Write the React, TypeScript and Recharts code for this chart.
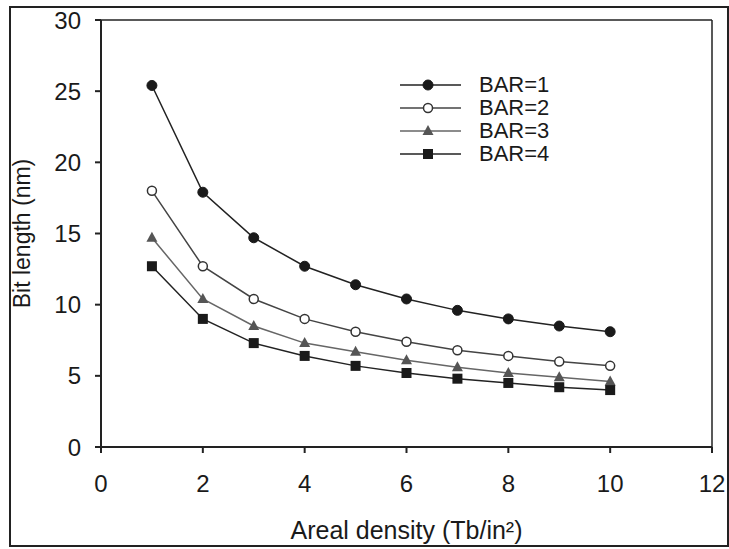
import React from "react";
import { LineChart, Line, XAxis, YAxis } from "recharts";

const density = [1, 2, 3, 4, 5, 6, 7, 8, 9, 10];
const bar1 = [25.4, 17.9, 14.7, 12.7, 11.4, 10.4, 9.6, 9.0, 8.5, 8.1];
const bar2 = [18.0, 12.7, 10.4, 9.0, 8.1, 7.4, 6.8, 6.4, 6.0, 5.7];
const bar3 = [14.7, 10.4, 8.5, 7.3, 6.7, 6.1, 5.6, 5.2, 4.9, 4.6];
const bar4 = [12.7, 9.0, 7.3, 6.4, 5.7, 5.2, 4.8, 4.5, 4.2, 4.0];
const xTicks = [0, 2, 4, 6, 8, 10, 12];
const yTicks = [0, 5, 10, 15, 20, 25, 30];

const FONT = "'Liberation Sans', Arial, sans-serif";

const data = density.map((d, i) => ({
  x: d,
  b1: bar1[i],
  b2: bar2[i],
  b3: bar3[i],
  b4: bar4[i],
}));

type Kind = "filled" | "open" | "triangle" | "square";

const Marker = ({ cx, cy, kind, color }: { cx: number; cy: number; kind: Kind; color: string }) => {
  if (cx == null || cy == null) return null;
  if (kind === "filled") return <circle cx={cx} cy={cy} r={5} fill={color} stroke={color} />;
  if (kind === "open")
    return <circle cx={cx} cy={cy} r={4.5} fill="#fff" stroke={color} strokeWidth={1.5} />;
  if (kind === "triangle")
    return (
      <polygon
        points={`${cx},${cy - 6} ${cx - 5.5},${cy + 4} ${cx + 5.5},${cy + 4}`}
        fill={color}
      />
    );
  return <rect x={cx - 5} y={cy - 5} width={10} height={10} fill={color} />;
};

const series = [
  { key: "b1", name: "BAR=1", kind: "filled" as Kind, color: "#1a1a1a", line: "#222" },
  { key: "b2", name: "BAR=2", kind: "open" as Kind, color: "#333", line: "#444" },
  { key: "b3", name: "BAR=3", kind: "triangle" as Kind, color: "#555", line: "#666" },
  { key: "b4", name: "BAR=4", kind: "square" as Kind, color: "#1a1a1a", line: "#222" },
];

const LegendBox = () => (
  <div style={{ fontFamily: FONT, fontSize: 22, color: "#1a1a1a" }}>
    {series.map((s) => (
      <div key={s.key} style={{ display: "flex", alignItems: "center", height: 23 }}>
        <svg width={72} height={20}>
          <line x1={2} y1={10} x2={63} y2={10} stroke={s.line} strokeWidth={1.5} />
          <Marker cx={30} cy={10} kind={s.kind} color={s.color} />
        </svg>
        <span style={{ marginLeft: 9 }}>{s.name}</span>
      </div>
    ))}
  </div>
);

export default function App() {
  return (
    <div
      style={{
        position: "absolute",
        left: 0,
        top: 0,
        width: 729,
        height: 549,
        background: "#fff",
      }}
    >
      <div
        style={{
          position: "absolute",
          left: 9,
          top: 6,
          width: 716,
          height: 537,
          border: "2px solid #222",
        }}
      />
      <LineChart
        width={729}
        height={549}
        data={data}
        margin={{ top: 19, right: 16, bottom: 62, left: 41 }}
        style={{ position: "absolute", left: 0, top: 0 }}
      >
        <XAxis
          dataKey="x"
          type="number"
          domain={[0, 12]}
          ticks={xTicks}
          tickSize={6}
          tickMargin={22}
          stroke="#222"
          strokeWidth={2}
          height={40}
          tick={{ fill: "#1a1a1a", fontSize: 24, fontFamily: FONT }}
          label={{
            value: "Areal density (Tb/in²)",
            position: "bottom",
            offset: 34,
            style: { fill: "#1a1a1a", fontSize: 25, fontFamily: FONT },
          }}
        />
        <XAxis
          xAxisId="top"
          orientation="top"
          type="number"
          domain={[0, 12]}
          tick={false}
          tickLine={false}
          height={1}
          stroke="#222"
          strokeWidth={1.5}
        />
        <YAxis
          type="number"
          domain={[0, 30]}
          ticks={yTicks}
          tickSize={6}
          tickMargin={14}
          width={60}
          stroke="#222"
          strokeWidth={2}
          tick={{ fill: "#1a1a1a", fontSize: 24, fontFamily: FONT }}
          label={{
            value: "Bit length (nm)",
            angle: -90,
            position: "insideLeft",
            offset: -19,
            style: { fill: "#1a1a1a", fontSize: 23, fontFamily: FONT, textAnchor: "middle" },
          }}
        />
        <YAxis
          yAxisId="right"
          orientation="right"
          type="number"
          domain={[0, 30]}
          tick={false}
          tickLine={false}
          width={1}
          stroke="#222"
          strokeWidth={1.5}
        />
        {series.map((s) => (
          <Line
            key={s.key}
            dataKey={s.key}
            name={s.name}
            stroke={s.line}
            strokeWidth={1.5}
            isAnimationActive={false}
            dot={(p: any) => (
              <Marker key={`${s.key}-${p.index}`} cx={p.cx} cy={p.cy} kind={s.kind} color={s.color} />
            )}
          />
        ))}
      </LineChart>
      <div style={{ position: "absolute", left: 398, top: 73 }}>
        <LegendBox />
      </div>
    </div>
  );
}
